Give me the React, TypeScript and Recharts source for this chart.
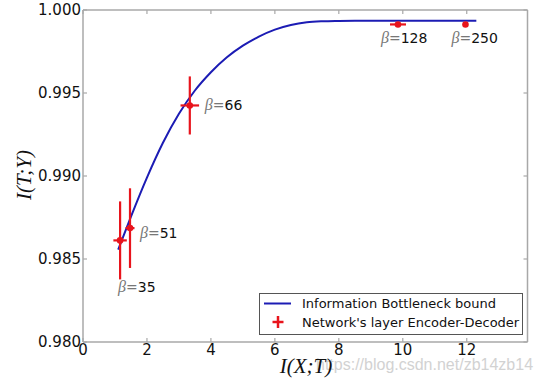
import { ComposedChart, Line, Scatter, ErrorBar, XAxis, YAxis, Legend } from 'recharts';

// Information Bottleneck bound curve
const curveX = [1.1, 1.5, 2, 2.5, 3, 3.5, 4, 4.5, 5, 5.5, 6, 6.5, 7, 7.5, 8, 8.5, 10, 11, 12.3];
const curveY = [
  0.98556, 0.98755, 0.9899, 0.992, 0.99375, 0.99515, 0.99625, 0.99715, 0.99785, 0.9984,
  0.99882, 0.9991, 0.99926, 0.99932, 0.99934, 0.99935, 0.99935, 0.99935, 0.99935,
];

// network layer points with error bars
const betas = [35, 51, 66, 128, 250];
const pointX = [1.16, 1.47, 3.34, 9.85, 11.96];
const pointY = [0.98612, 0.98686, 0.99425, 0.99913, 0.99913];
const errX = [0.21, 0.14, 0.29, 0.25, 0];
const errY = [0.00235, 0.0024, 0.00175, 0, 0];

const xTicks = [0, 2, 4, 6, 8, 10, 12];
const yTicks = [0.98, 0.985, 0.99, 0.995, 1.0];
const legendNames = ['Information Bottleneck bound', "Network's layer Encoder-Decoder"];

const curve = curveX.map((x, i) => ({ x, y: curveY[i] }));
const points = betas.map((beta, i) => ({ beta, x: pointX[i], y: pointY[i], ex: errX[i], ey: errY[i] }));

const BLUE = '#1c1cb4';
const RED = '#e8141c';
const SPINE = '#a8a8a8';
const SANS = '"DejaVu Sans", sans-serif';
const SERIF = '"Liberation Serif", serif';

// where each beta annotation sits relative to its point (start x, centre y)
const labelOffset = [
  [-2, 47],
  [10, 5],
  [15, 0],
  [-17, 14],
  [-14, 14],
];

function BottomTick({ x, y, payload }: any) {
  return (
    <g>
      <line x1={x} y1={y} x2={x} y2={y - 4} stroke={SPINE} strokeWidth={1.2} />
      <text x={x} y={y + 13} textAnchor="middle" fontSize={15} fontFamily={SANS} fill="#111">
        {payload.value}
      </text>
    </g>
  );
}

function LeftTick({ x, y, payload }: any) {
  return (
    <g>
      <line x1={x} y1={y} x2={x + 4} y2={y} stroke={SPINE} strokeWidth={1.2} />
      <text x={x - 2} y={y} dy="0.36em" textAnchor="end" fontSize={15} fontFamily={SANS} fill="#111">
        {Number(payload.value).toFixed(3)}
      </text>
    </g>
  );
}

function TopTick({ x, y }: any) {
  return <line x1={x} y1={y} x2={x} y2={y + 4} stroke={SPINE} strokeWidth={1.2} />;
}

function RightTick({ x, y }: any) {
  return <line x1={x} y1={y} x2={x - 4} y2={y} stroke={SPINE} strokeWidth={1.2} />;
}

function PointShape({ cx, cy, payload }: any) {
  const i = betas.indexOf(payload.beta);
  const [dx, dy] = labelOffset[i] || [0, 0];
  return (
    <g>
      <circle cx={cx} cy={cy} r={3.3} fill={RED} />
      <text x={cx + dx} y={cy + dy} dy="0.36em" fontSize={14} fontFamily={SANS}>
        <tspan fontFamily={SERIF} fontStyle="italic" fill="#777" fontSize={16}>β</tspan>
        <tspan fill="#777">=</tspan>
        <tspan fill="#111">{payload.beta}</tspan>
      </text>
    </g>
  );
}

function LegendBox() {
  return (
    <div
      style={{
        position: 'relative',
        width: 264,
        height: 42,
        boxSizing: 'border-box',
        border: '1px solid #555',
        background: '#fff',
        fontFamily: SANS,
        fontSize: 13,
        color: '#111',
      }}
    >
      <svg width={40} height={40} style={{ position: 'absolute', left: 0, top: 0 }}>
        <line x1={4} y1={9.5} x2={31} y2={9.5} stroke={BLUE} strokeWidth={2} />
        <line x1={12.5} y1={28} x2={23.5} y2={28} stroke={RED} strokeWidth={2.5} />
        <line x1={18} y1={22} x2={18} y2={34} stroke={RED} strokeWidth={2.5} />
      </svg>
      <div style={{ position: 'absolute', left: 42, top: 1, lineHeight: '17px', whiteSpace: 'nowrap' }}>
        {legendNames[0]}
      </div>
      <div style={{ position: 'absolute', left: 42, top: 20, lineHeight: '17px', whiteSpace: 'nowrap' }}>
        {legendNames[1]}
      </div>
    </div>
  );
}

export default function App() {
  return (
    <div style={{ position: 'absolute', left: 0, top: 0, width: 540, height: 384, background: '#fff' }}>
      <ComposedChart width={540} height={384} margin={{ top: 8, right: 10.5, left: 8, bottom: 12 }}>
        <XAxis
          dataKey="x"
          type="number"
          domain={[0, 13.9]}
          ticks={xTicks}
          interval={0}
          allowDataOverflow
          height={30}
          tickSize={0}
          tickMargin={0}
          axisLine={{ stroke: SPINE, strokeWidth: 1.5 }}
          tick={(p: any) => <BottomTick {...p} />}
        />
        <XAxis
          xAxisId="top"
          orientation="top"
          dataKey="x"
          type="number"
          domain={[0, 13.9]}
          ticks={xTicks}
          interval={0}
          allowDataOverflow
          height={2}
          tickSize={0}
          tickMargin={0}
          axisLine={{ stroke: SPINE, strokeWidth: 1.5 }}
          tick={(p: any) => <TopTick {...p} />}
        />
        <YAxis
          type="number"
          domain={[0.98, 1.0]}
          ticks={yTicks}
          interval={0}
          allowDataOverflow
          width={75}
          tickSize={0}
          tickMargin={0}
          axisLine={{ stroke: SPINE, strokeWidth: 1.5 }}
          tick={(p: any) => <LeftTick {...p} />}
        />
        <YAxis
          yAxisId="right"
          orientation="right"
          type="number"
          domain={[0.98, 1.0]}
          ticks={yTicks}
          interval={0}
          allowDataOverflow
          width={2}
          tickSize={0}
          tickMargin={0}
          axisLine={{ stroke: SPINE, strokeWidth: 1.5 }}
          tick={(p: any) => <RightTick {...p} />}
        />
        <Line
          data={curve}
          dataKey="y"
          type="monotone"
          stroke={BLUE}
          strokeWidth={2}
          dot={false}
          activeDot={false}
          isAnimationActive={false}
        />
        <Scatter data={points} dataKey="y" fill={RED} shape={(p: any) => <PointShape {...p} />} isAnimationActive={false}>
          <ErrorBar dataKey="ey" direction="y" width={0} stroke={RED} strokeWidth={2.2} />
          <ErrorBar dataKey="ex" direction="x" width={0} stroke={RED} strokeWidth={2.2} />
        </Scatter>
        <Legend
          layout="vertical"
          align="center"
          verticalAlign="middle"
          content={() => <LegendBox />}
          wrapperStyle={{ left: 259, top: 293, width: 264, height: 42 }}
        />
      </ComposedChart>
      <div
        style={{
          position: 'absolute',
          left: 316,
          top: 359,
          height: 12,
          lineHeight: '12px',
          fontFamily: '"Liberation Sans", Arial, sans-serif',
          fontSize: 16,
          color: '#d2d2d2',
          whiteSpace: 'nowrap',
        }}
      >
        https://blog.csdn.net/zb14zb14
      </div>
      <div
        style={{
          position: 'absolute',
          left: 306,
          top: 366,
          transform: 'translate(-50%, -50%)',
          fontFamily: SERIF,
          fontStyle: 'italic',
          fontSize: 21,
          color: '#111',
          whiteSpace: 'nowrap',
        }}
      >
        I(X;T)
      </div>
      <div
        style={{
          position: 'absolute',
          left: 24,
          top: 175,
          transform: 'translate(-50%, -50%) rotate(-90deg)',
          fontFamily: SERIF,
          fontStyle: 'italic',
          fontSize: 21,
          color: '#111',
          whiteSpace: 'nowrap',
        }}
      >
        I(T;Y)
      </div>
    </div>
  );
}
